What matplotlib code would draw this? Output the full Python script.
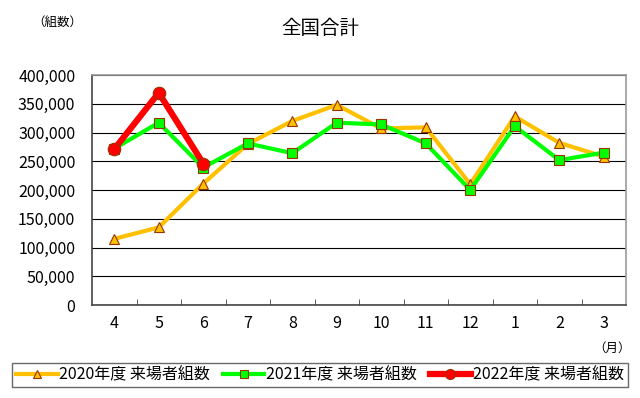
import matplotlib.pyplot as plt

plt.rcParams['font.family'] = ['Noto Sans CJK JP', 'DejaVu Sans']

# months (fiscal year, April start)
months = ['4', '5', '6', '7', '8', '9', '10', '11', '12', '1', '2', '3']
y2020 = [115000, 135000, 211000, 280000, 320000, 348000, 307000, 309000, 210000, 328000, 282000, 258000]
y2021 = [272000, 317000, 239000, 281000, 264000, 317000, 314000, 281000, 200000, 311000, 252000, 265000]
y2022 = [271000, 369000, 246000]
yticks = [0, 50000, 100000, 150000, 200000, 250000, 300000, 350000, 400000]

fig = plt.figure(figsize=(6.4, 3.98), dpi=100)
ax = fig.add_axes([92/640, 1 - 305/398, 534/640, 230/398])

x = list(range(len(months)))
ax.plot(x, y2020, color='#FFC000', lw=3, marker='^', ms=7,
        mfc='#FFC000', mec='#993300', mew=0.8, label='2020年度 来場者組数', zorder=3)
ax.plot(x, y2021, color='#00FF00', lw=3, marker='s', ms=6.5,
        mfc='#00FF00', mec='#993300', mew=0.8, label='2021年度 来場者組数', zorder=4)
ax.plot(x[:len(y2022)], y2022, color='#FF0000', lw=4.5, marker='o', ms=9,
        mfc='#FF0000', mec='#993300', mew=0.8, label='2022年度 来場者組数', zorder=5)

ax.set_xlim(-0.5, len(months) - 0.5)
ax.set_ylim(0, 400000)
ax.set_yticks(yticks)
ax.set_yticklabels([f'{v:,}' for v in yticks], fontsize=11.5)
ax.yaxis.grid(True, color='black', lw=0.8)
ax.set_axisbelow(True)
ax.tick_params(axis='y', length=0, pad=12)

ax.set_xticks(x)
ax.set_xticklabels(months, fontsize=11.5)
ax.tick_params(axis='x', length=0, pad=7)
ax.set_xticks([i + 0.5 for i in x[:-1]], minor=True)
ax.tick_params(axis='x', which='minor', direction='in', length=4, color='#444444')

for s in ax.spines.values():
    s.set_color('#999999')
    s.set_linewidth(1.2)
ax.spines['left'].set_color('#444444')
ax.spines['bottom'].set_color('#444444')

fig.text(0.5, 1 - 28/398, '全国合計', ha='center', va='center', fontsize=14)
fig.text(57/640, 1 - 22/398, '（組数）', ha='center', va='center', fontsize=9)
fig.text(612/640, 1 - 348/398, '（月）', ha='center', va='center', fontsize=9)

leg = fig.legend(loc='center', bbox_to_anchor=(0.5, 1 - 375/398), ncol=3,
                 fontsize=11.5, frameon=True, fancybox=False, edgecolor='#444444',
                 handlelength=2.6, columnspacing=0.8, handletextpad=0.1,
                 borderpad=0.25, markerscale=0.8)
leg.get_frame().set_linewidth(1.0)

fig.savefig('out.png', dpi=100)
